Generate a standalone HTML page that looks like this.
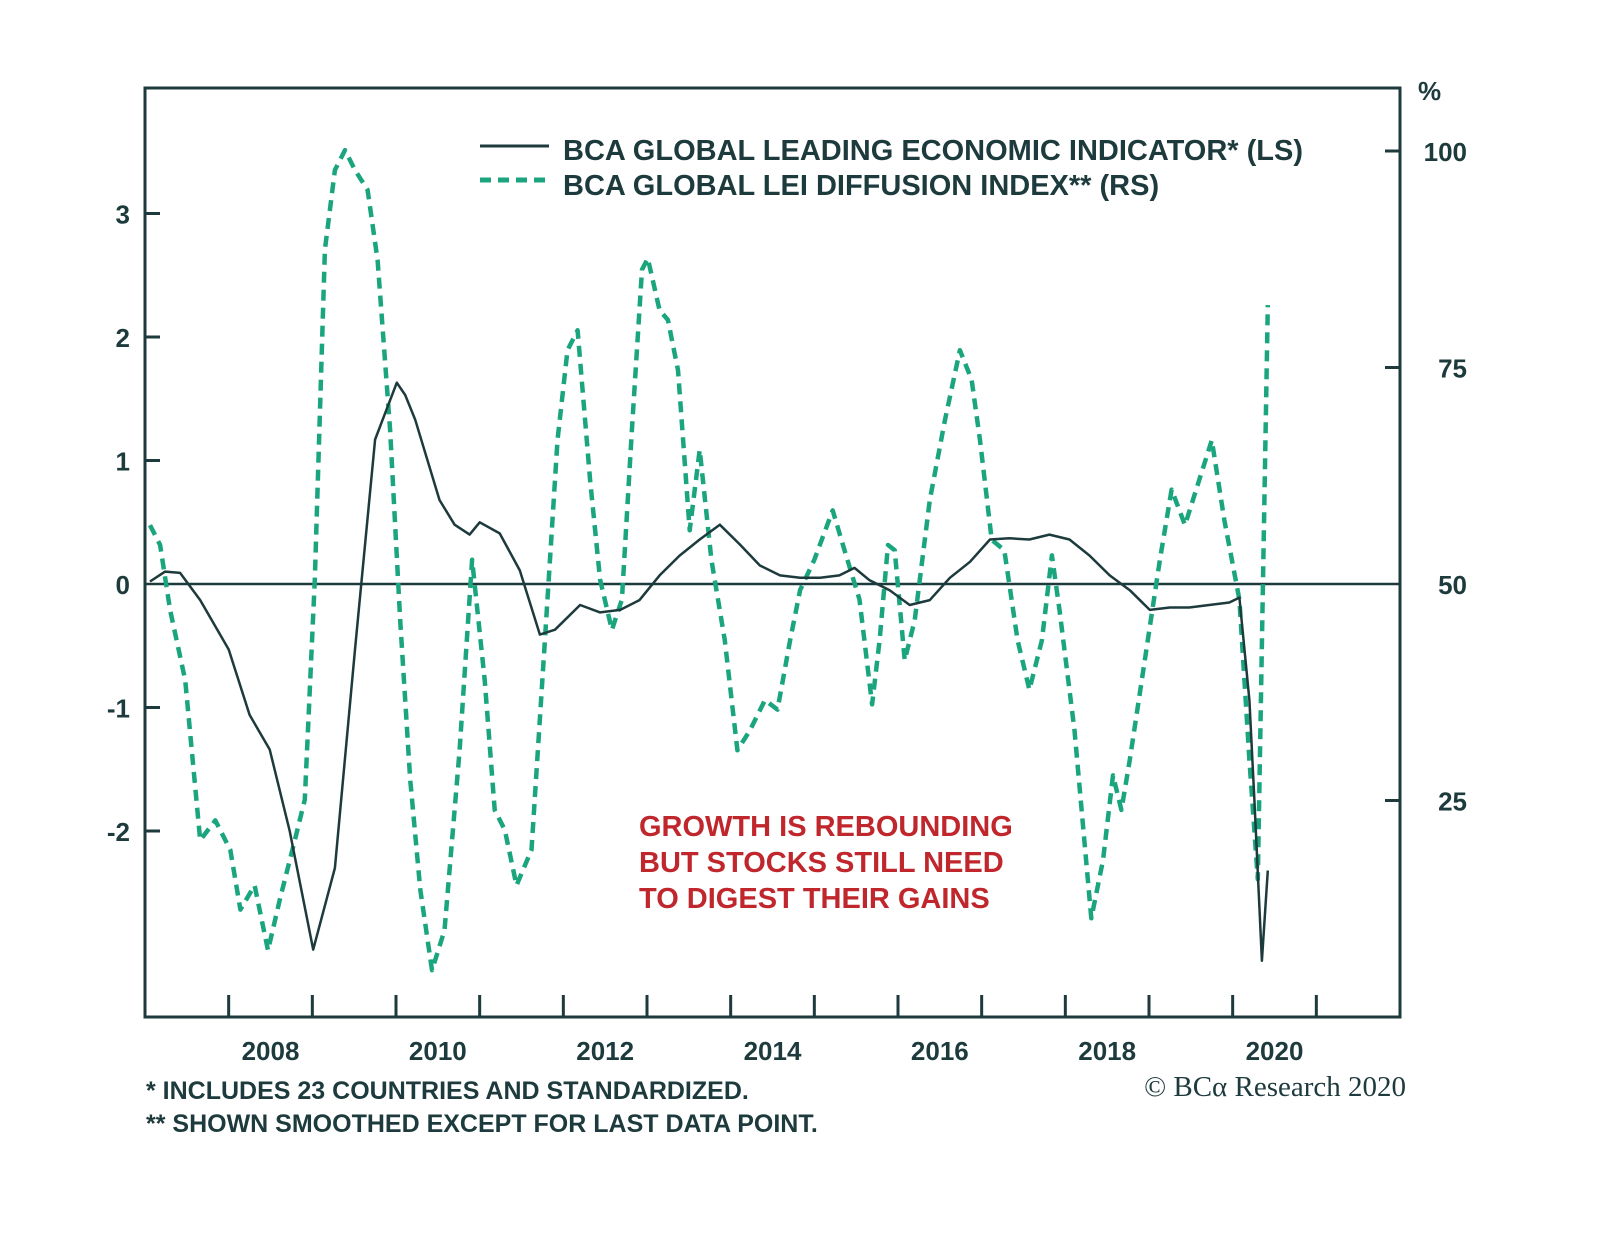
<!DOCTYPE html>
<html><head><meta charset="utf-8"><style>
body{margin:0;background:#fff}
svg{display:block}
text{font-family:"Liberation Sans",sans-serif;font-weight:bold;fill:#1d3a3c}
</style></head><body>
<svg id="chart" width="1600" height="1233" viewBox="0 0 1600 1233">
<g id="axes"></g>
<g id="series"></g>
<g>
<line x1="480" y1="146" x2="549" y2="146" stroke="#1d3a3c" stroke-width="3"/>
<line x1="480" y1="180" x2="549" y2="180" stroke="#1aa57e" stroke-width="5" stroke-dasharray="11,7"/>
<text x="563" y="160" font-size="29">BCA GLOBAL LEADING ECONOMIC INDICATOR* (LS)</text>
<text x="563" y="195" font-size="29">BCA GLOBAL LEI DIFFUSION INDEX** (RS)</text>
</g>
<g>
<text x="639" y="836" font-size="29" style="fill:#c0272d">GROWTH IS REBOUNDING</text>
<text x="639" y="872" font-size="29" style="fill:#c0272d">BUT STOCKS STILL NEED</text>
<text x="639" y="908" font-size="29" style="fill:#c0272d">TO DIGEST THEIR GAINS</text>
</g>
<text x="1418" y="100" font-size="26">%</text>
<text x="146" y="1099" font-size="25">* INCLUDES 23 COUNTRIES AND STANDARDIZED.</text>
<text x="146" y="1132" font-size="25">** SHOWN SMOOTHED EXCEPT FOR LAST DATA POINT.</text>
<text x="1406" y="1096" font-size="29" text-anchor="end" style="font-family:'Liberation Serif',serif;font-weight:normal">© BCα Research 2020</text>
</svg>
<script>
const leiYears=[2007.06,2007.24,2007.42,2007.66,2008.0,2008.25,2008.49,2008.73,2009.01,2009.27,2009.51,2009.75,2010.01,2010.11,2010.23,2010.52,2010.70,2010.88,2011.0,2011.24,2011.48,2011.72,2011.90,2012.20,2012.44,2012.68,2012.91,2013.15,2013.39,2013.63,2013.87,2014.11,2014.35,2014.59,2014.83,2015.07,2015.30,2015.48,2015.66,2015.90,2016.14,2016.38,2016.62,2016.86,2017.10,2017.33,2017.57,2017.81,2018.05,2018.29,2018.53,2018.77,2019.01,2019.25,2019.48,2019.72,2019.96,2020.08,2020.20,2020.26,2020.35,2020.42];
const leiValues=[0.02,0.1,0.09,-0.13,-0.53,-1.06,-1.34,-2.0,-2.96,-2.3,-0.53,1.17,1.63,1.53,1.33,0.68,0.48,0.40,0.50,0.41,0.11,-0.41,-0.37,-0.17,-0.23,-0.21,-0.13,0.07,0.23,0.36,0.48,0.32,0.15,0.07,0.05,0.05,0.07,0.13,0.03,-0.05,-0.17,-0.13,0.05,0.18,0.36,0.37,0.36,0.40,0.36,0.23,0.07,-0.05,-0.21,-0.19,-0.19,-0.17,-0.15,-0.11,-0.94,-1.75,-3.05,-2.32];
const diffYears=[2007.06,2007.18,2007.30,2007.48,2007.66,2007.84,2008.02,2008.14,2008.31,2008.47,2008.61,2008.79,2008.91,2009.03,2009.15,2009.27,2009.39,2009.51,2009.66,2009.78,2009.93,2010.05,2010.17,2010.29,2010.43,2010.58,2010.76,2010.91,2011.06,2011.18,2011.30,2011.44,2011.62,2011.78,2011.93,2012.05,2012.17,2012.32,2012.44,2012.58,2012.70,2012.82,2012.94,2013.01,2013.15,2013.25,2013.37,2013.51,2013.63,2013.77,2013.93,2014.08,2014.23,2014.41,2014.56,2014.71,2014.83,2015.00,2015.22,2015.36,2015.54,2015.69,2015.78,2015.88,2015.96,2016.08,2016.20,2016.38,2016.56,2016.74,2016.88,2016.98,2017.12,2017.27,2017.43,2017.57,2017.72,2017.84,2017.93,2018.11,2018.31,2018.45,2018.57,2018.67,2018.77,2018.95,2019.13,2019.27,2019.43,2019.60,2019.75,2019.90,2020.08,2020.20,2020.30,2020.42];
const diffValues=[56.8,54.5,47.0,38.9,20.4,22.7,19.3,12.4,15.2,7.7,13.5,20.4,25.1,50.5,88.6,97.8,100.1,97.8,95.5,87.4,67.8,45.8,27.4,14.7,5.4,10.0,30.8,52.8,38.9,23.9,21.6,15.2,19.3,43.5,66.6,77.0,79.3,62.0,50.5,44.7,48.2,67.8,86.3,87.6,81.6,80.5,74.7,56.2,65.5,52.8,43.5,30.8,33.1,36.6,35.5,43.5,49.3,52.8,58.5,53.9,48.2,36.1,43.5,54.5,53.9,41.2,45.8,59.7,68.9,77.0,73.6,66.6,55.1,53.9,43.5,37.8,43.5,53.3,47.0,33.1,11.4,18.1,27.9,23.9,29.7,41.2,52.8,60.9,56.8,62.0,66.6,57.4,48.2,29.7,15.9,82.2];
const leftTicks=[3,2,1,0,-1,-2];
const rightTicks=[100,75,50,25];
const yearTicks=[2008,2009,2010,2011,2012,2013,2014,2015,2016,2017,2018,2019,2020,2021];
const yearLabels=[2008,2010,2012,2014,2016,2018,2020];

const X0=145,X1=1400,Y0=88,Y1=1017;
const xs=y=>X0+(y-2007)*(X1-X0)/15;
const yl=v=>584-v*123.5;
const yr=v=>584-(v-50)*8.66;
const NS='http://www.w3.org/2000/svg';
function mk(t,p,a){const e=document.createElementNS(NS,t);for(const k in a)e.setAttribute(k,a[k]);p.appendChild(e);return e;}
const ax=document.getElementById('axes'),se=document.getElementById('series');
const st={stroke:'#1d3a3c','stroke-width':3};
let r=mk('rect',ax,{x:X0,y:Y0,width:X1-X0,height:Y1-Y0,fill:'none',stroke:'#1d3a3c','stroke-width':3});


let z=mk('line',ax,{x1:X0,x2:X1,y1:yl(0),y2:yl(0),...st,'stroke-width':2.5});


leftTicks.forEach(v=>{
  if(v!==0){const l=mk('line',ax,{x1:X0,x2:X0+15,y1:yl(v),y2:yl(v),...st});
  
  }
  const t=mk('text',ax,{x:130,y:yl(v)+10,'font-size':26,'text-anchor':'end'});t.textContent=v;
  
  
});
rightTicks.forEach(v=>{
  if(v!==50){const l=mk('line',ax,{x1:X1-15,x2:X1,y1:yr(v),y2:yr(v),...st});
  
  }
  const t=mk('text',ax,{x:1467,y:yr(v)+10,'font-size':26,'text-anchor':'end'});t.textContent=v;
  
  
});
yearTicks.forEach(y=>{const l=mk('line',ax,{x1:xs(y),x2:xs(y),y1:Y1,y2:Y1-22,...st});
  
  });
yearLabels.forEach(y=>{const t=mk('text',ax,{x:xs(y+0.5),y:1060,'font-size':26,'text-anchor':'middle'});t.textContent=y;
  
  });
const dp=diffYears.map((y,i)=>xs(y).toFixed(1)+','+yr(diffValues[i]).toFixed(1)).join(' ');
const g=mk('polyline',se,{points:dp,fill:'none',stroke:'#1aa57e','stroke-width':4.5,'stroke-dasharray':'11,7','stroke-linejoin':'round'});


const lp=leiYears.map((y,i)=>xs(y).toFixed(1)+','+yl(leiValues[i]).toFixed(1)).join(' ');
const b=mk('polyline',se,{points:lp,fill:'none',stroke:'#1d3a3c','stroke-width':2.5,'stroke-linejoin':'round'});


</script>
</body></html>
